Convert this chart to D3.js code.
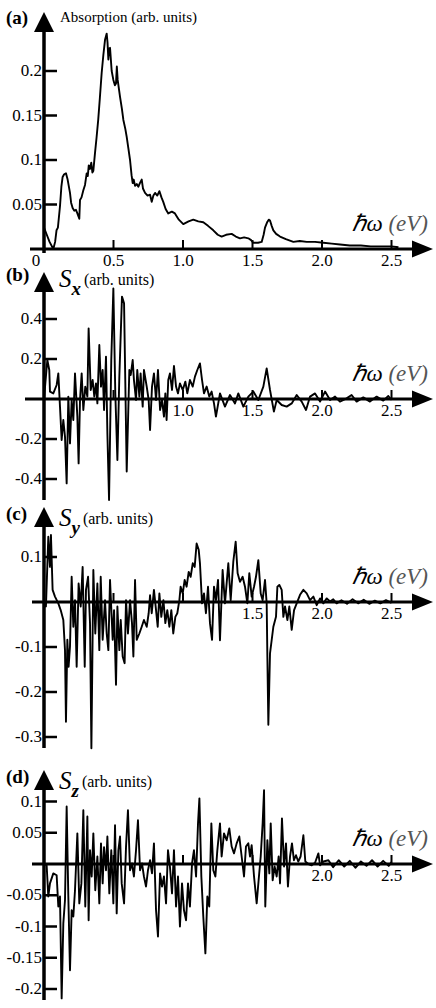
<!DOCTYPE html>
<html>
<head>
<meta charset="utf-8">
<script src="https://cdn.jsdelivr.net/npm/d3@7/dist/d3.min.js"></script>
<style>
  html, body { margin: 0; padding: 0; background: #fff; }
  text, tspan { font-family: 'Liberation Serif'; }
</style>
</head>
<body>
<svg id="chart"></svg>
<script>
const width = 436;
const height = 1008;
const serif = 'Liberation Serif';

/* data: [photon energy (eV), value] */
const absorption = [
  [0,0.024],[0.02,0.016],[0.04,0.008],[0.067,0.0],[0.08,0.008],[0.09,0.021],[0.1,0.024],[0.115,0.048],
  [0.125,0.07],[0.134,0.081],[0.145,0.084],[0.158,0.085],[0.17,0.078],[0.187,0.063],[0.195,0.052],
  [0.206,0.046],[0.218,0.043],[0.23,0.044],[0.24,0.04],[0.254,0.034],[0.259,0.055],[0.27,0.058],
  [0.283,0.066],[0.295,0.072],[0.307,0.085],[0.315,0.082],[0.322,0.094],[0.331,0.09],[0.34,0.097],
  [0.348,0.086],[0.355,0.088],[0.367,0.108],[0.378,0.125],[0.39,0.145],[0.402,0.17],[0.415,0.198],
  [0.427,0.218],[0.439,0.235],[0.451,0.242],[0.457,0.232],[0.463,0.213],[0.468,0.225],[0.475,0.226],
  [0.487,0.2],[0.499,0.19],[0.51,0.184],[0.518,0.186],[0.524,0.205],[0.53,0.19],[0.547,0.171],
  [0.56,0.158],[0.571,0.145],[0.585,0.135],[0.595,0.126],[0.607,0.113],[0.619,0.1],[0.63,0.083],
  [0.638,0.074],[0.645,0.078],[0.655,0.071],[0.667,0.073],[0.679,0.07],[0.69,0.074],[0.703,0.078],
  [0.712,0.068],[0.727,0.063],[0.745,0.06],[0.763,0.061],[0.775,0.053],[0.787,0.06],[0.799,0.063],
  [0.815,0.06],[0.83,0.065],[0.845,0.058],[0.858,0.053],[0.875,0.045],[0.894,0.04],[0.92,0.042],
  [0.942,0.04],[0.97,0.033],[1.002,0.028],[1.04,0.031],[1.074,0.033],[1.11,0.031],[1.146,0.03],
  [1.18,0.026],[1.218,0.021],[1.25,0.016],[1.278,0.014],[1.31,0.016],[1.35,0.017],[1.38,0.014],
  [1.41,0.012],[1.44,0.013],[1.47,0.012],[1.49,0.01],[1.506,0.007],[1.54,0.007],[1.566,0.008],
  [1.58,0.016],[1.59,0.024],[1.605,0.03],[1.618,0.033],[1.626,0.032],[1.638,0.026],[1.65,0.021],
  [1.67,0.017],[1.698,0.014],[1.74,0.011],[1.794,0.008],[1.84,0.009],[1.89,0.008],[1.95,0.008],
  [2.01,0.007],[2.07,0.006],[2.13,0.005],[2.2,0.004],[2.28,0.004],[2.35,0.003],[2.42,0.003],
  [2.5,0.003],[2.55,0.002]
];

const spinX = [
  [0,0],[0.024,0.195],[0.038,0.145],[0.043,0.037],[0.067,0.028],[0.091,0.07],[0.103,0.128],
  [0.115,-0.038],[0.127,-0.205],[0.139,-0.105],[0.151,-0.188],[0.163,-0.422],[0.175,0.012],
  [0.187,-0.222],[0.199,-0.005],[0.211,-0.105],[0.223,0.128],[0.24,-0.088],[0.249,-0.322],
  [0.259,-0.005],[0.271,0.128],[0.283,-0.055],[0.297,0.062],[0.312,0.012],[0.321,0.353],
  [0.336,0.045],[0.35,0.095],[0.362,0.012],[0.374,0.078],[0.384,-0.022],[0.398,0.27],[0.41,0.062],
  [0.422,0.145],[0.432,-0.055],[0.446,0.212],[0.456,-0.172],[0.468,-0.505],[0.484,0.195],
  [0.499,0.553],[0.513,0.028],[0.528,-0.305],[0.542,0.112],[0.561,0.512],[0.576,0.478],
  [0.595,-0.363],[0.614,0.145],[0.624,0.12],[0.638,0.195],[0.647,0.095],[0.662,-0.005],
  [0.671,0.145],[0.686,0.012],[0.695,0.128],[0.71,-0.038],[0.719,0.145],[0.739,0.062],
  [0.753,-0.005],[0.763,-0.155],[0.777,0.062],[0.791,0.128],[0.806,-0.005],[0.82,0.145],
  [0.835,-0.055],[0.849,-0.005],[0.863,-0.088],[0.873,0.028],[0.882,-0.105],[0.894,0.095],
  [0.906,0.128],[0.921,0.045],[0.935,0.165],[0.95,0.062],[0.964,0.028],[0.978,0.078],
  [0.998,0.045],[1.017,0.087],[1.031,0.028],[1.05,0.095],[1.07,0.062],[1.086,0.112],
  [1.103,0.145],[1.122,0.178],[1.137,0.095],[1.151,0.028],[1.17,0.062],[1.189,0.012],
  [1.206,0.037],[1.223,-0.022],[1.237,-0.088],[1.266,0.028],[1.302,-0.038],[1.338,0.02],
  [1.374,-0.022],[1.398,0.028],[1.434,-0.038],[1.47,0.012],[1.506,0.037],[1.542,-0.005],
  [1.578,0.062],[1.602,0.153],[1.626,0.045],[1.654,-0.063],[1.674,-0.005],[1.71,-0.03],
  [1.746,-0.038],[1.782,-0.022],[1.818,0.02],[1.854,-0.013],[1.885,-0.055],[1.914,0.012],
  [1.95,0.028],[1.986,-0.013],[2.022,0.037],[2.058,-0.005],[2.094,0.012],[2.129,-0.013],
  [2.177,0.003],[2.213,0.02],[2.249,-0.013],[2.297,0.008],[2.345,-0.013],[2.393,0.012],
  [2.441,-0.008],[2.477,0.015],[2.501,-0.005]
];

const spinY = [
  [0,0],[0.014,-0.01],[0.031,0.145],[0.043,0.078],[0.05,0.149],[0.062,0.027],[0.079,0.012],
  [0.103,-0.003],[0.12,-0.018],[0.139,-0.04],[0.151,-0.107],[0.158,-0.266],[0.168,-0.084],
  [0.177,-0.144],[0.187,-0.099],[0.199,0.056],[0.211,-0.055],[0.223,0.004],[0.235,-0.144],
  [0.249,0.041],[0.264,-0.01],[0.278,0.078],[0.293,-0.144],[0.302,0.027],[0.317,0.056],
  [0.331,-0.047],[0.341,-0.325],[0.355,0.071],[0.369,-0.07],[0.384,0.041],[0.398,-0.107],
  [0.408,0.056],[0.422,-0.084],[0.439,0.004],[0.451,-0.07],[0.463,-0.107],[0.475,0.049],
  [0.494,-0.084],[0.504,-0.018],[0.518,-0.184],[0.528,-0.01],[0.542,-0.107],[0.552,-0.04],
  [0.566,-0.121],[0.58,-0.136],[0.59,0.004],[0.604,-0.07],[0.619,0.004],[0.633,-0.047],
  [0.643,-0.121],[0.655,0.049],[0.667,-0.084],[0.686,-0.07],[0.703,-0.055],[0.719,-0.04],
  [0.739,-0.055],[0.753,-0.025],[0.763,0.015],[0.775,-0.025],[0.791,0.027],[0.806,-0.018],
  [0.818,-0.055],[0.83,0.019],[0.844,-0.033],[0.859,0.004],[0.873,-0.047],[0.887,-0.018],
  [0.902,-0.055],[0.916,-0.018],[0.93,-0.07],[0.945,-0.033],[0.959,-0.025],[0.974,0.004],
  [0.983,0.034],[0.998,0.019],[1.012,0.049],[1.026,0.034],[1.041,0.067],[1.055,0.056],
  [1.07,0.086],[1.084,0.078],[1.098,0.13],[1.113,0.116],[1.122,0.086],[1.137,-0.003],
  [1.151,0.019],[1.165,-0.025],[1.18,0.034],[1.194,-0.047],[1.209,-0.084],[1.223,0.034],
  [1.237,0.004],[1.252,0.049],[1.266,-0.085],[1.285,0.071],[1.302,-0.003],[1.326,0.086],
  [1.343,0.004],[1.362,0.09],[1.379,0.134],[1.393,0.064],[1.41,0.045],[1.429,0.056],
  [1.446,0.034],[1.463,-0.003],[1.477,0.064],[1.494,0.012],[1.511,0.034],[1.525,0.056],
  [1.542,0.093],[1.559,0.019],[1.573,0.004],[1.59,0.049],[1.602,-0.003],[1.607,-0.122],
  [1.614,-0.273],[1.626,-0.114],[1.65,-0.055],[1.669,-0.033],[1.679,0.034],[1.693,0.038],
  [1.71,0.027],[1.722,-0.033],[1.734,-0.01],[1.751,-0.04],[1.765,-0.01],[1.782,-0.062],
  [1.799,-0.018],[1.818,-0.003],[1.842,0.016],[1.866,0.027],[1.89,0.019],[1.914,0.004],
  [1.938,0.012],[1.962,-0.007],[1.986,0.008],[2.01,-0.003],[2.034,0.008],[2.058,0.001],
  [2.081,0.006],[2.105,-0.003],[2.14,0.004],[2.18,-0.004],[2.22,0.006],[2.26,-0.003],
  [2.3,0.005],[2.34,-0.004],[2.38,0.003],[2.42,-0.003],[2.46,0.004],[2.5,-0.002]
];

const spinZ = [
  [0,0],[0.019,-0.002],[0.031,-0.052],[0.043,-0.031],[0.067,-0.015],[0.091,-0.018],
  [0.103,-0.068],[0.115,-0.052],[0.127,-0.215],[0.139,-0.095],[0.151,-0.058],[0.163,0.092],
  [0.175,-0.052],[0.187,-0.17],[0.199,-0.074],[0.211,-0.084],[0.223,-0.042],[0.24,0.049],
  [0.254,-0.063],[0.269,-0.031],[0.283,0.086],[0.297,-0.068],[0.312,0.076],[0.321,-0.09],
  [0.331,0.022],[0.343,-0.02],[0.355,0.049],[0.369,-0.042],[0.384,0.012],[0.398,-0.063],
  [0.41,0.033],[0.422,-0.031],[0.432,0.027],[0.446,-0.01],[0.456,0.044],[0.47,-0.047],
  [0.484,0.022],[0.499,-0.063],[0.511,0.062],[0.523,-0.079],[0.535,0.022],[0.547,0.044],
  [0.559,-0.031],[0.576,-0.063],[0.59,0.027],[0.604,0.086],[0.619,-0.01],[0.633,0.001],
  [0.647,-0.02],[0.662,0.022],[0.676,0.07],[0.691,-0.01],[0.705,0.001],[0.719,-0.02],
  [0.734,-0.036],[0.748,-0.01],[0.763,0.006],[0.777,-0.015],[0.791,0.033],[0.806,-0.074],
  [0.82,-0.116],[0.835,-0.015],[0.849,-0.036],[0.863,-0.02],[0.878,-0.063],[0.892,0.022],
  [0.906,-0.004],[0.921,-0.047],[0.935,0.022],[0.95,-0.068],[0.964,-0.02],[0.978,-0.1],
  [0.993,-0.031],[1.007,-0.074],[1.022,-0.09],[1.036,-0.031],[1.05,-0.068],[1.065,0.001],
  [1.079,0.022],[1.094,-0.02],[1.108,0.065],[1.118,0.105],[1.132,-0.02],[1.146,-0.084],
  [1.161,-0.143],[1.175,-0.052],[1.189,-0.068],[1.204,0.065],[1.218,-0.01],[1.233,-0.02],
  [1.247,0.022],[1.266,0.065],[1.278,0.012],[1.295,0.049],[1.314,0.038],[1.333,0.057],
  [1.35,0.028],[1.367,0.017],[1.386,0.033],[1.405,0.044],[1.422,0.012],[1.439,-0.02],
  [1.453,0.028],[1.47,0.033],[1.482,0.012],[1.494,0.03],[1.511,-0.02],[1.53,-0.063],
  [1.544,-0.026],[1.559,0.012],[1.573,0.065],[1.583,0.118],[1.592,-0.068],[1.607,0.038],
  [1.621,-0.015],[1.631,0.065],[1.645,-0.026],[1.659,-0.004],[1.674,-0.02],[1.688,0.012],
  [1.698,-0.031],[1.712,0.073],[1.727,-0.004],[1.741,0.033],[1.755,-0.036],[1.77,0.012],
  [1.784,0.033],[1.798,0.006],[1.813,0.014],[1.829,0.004],[1.846,0.012],[1.866,0.046],
  [1.88,0.004],[1.902,0.0],[1.926,-0.002],[1.95,0.002],[1.974,0.017],[1.986,-0.002],
  [2.01,0.004],[2.046,0.006],[2.08,-0.005],[2.12,0.006],[2.16,-0.004],[2.2,0.005],
  [2.24,-0.006],[2.28,0.004],[2.32,-0.003],[2.36,0.006],[2.4,-0.004],[2.44,0.005],
  [2.48,-0.003],[2.5,0.003]
];

/* tick values */
const absTicks = [0.05, 0.1, 0.15, 0.2];
const sxTicks = [-0.4, -0.2, 0.2, 0.4];
const syTicks = [-0.3, -0.2, -0.1, 0.1];
const szTicks = [-0.2, -0.15, -0.1, -0.05, 0.05, 0.1];
const energyTicks = [0.5, 1.0, 1.5, 2.0, 2.5];
const absEnergyLabels = [0, 0.5, 1.0, 1.5, 2.0, 2.5];
const sxEnergyLabels = [1.0, 1.5, 2.0, 2.5];
const syEnergyLabels = [1.5, 2.0, 2.5];
const szEnergyLabels = [2.0, 2.5];

const axisX = 44;

/* shared energy scale */
const xScale = d3.scaleLinear().domain([0, 2.5]).range([axisX, axisX + 347.5]);

/* panel layout: zero line, px per unit, y-axis extent */
const panels = [
  { tag: '(a)', data: absorption, ticks: absTicks, xLabels: absEnergyLabels, zero: 249, k: 890,
    top: 12, bottom: 253, xStart: 30, tagY: 24 },
  { tag: '(b)', sub: 'x', data: spinX, ticks: sxTicks, xLabels: sxEnergyLabels, zero: 399, k: 200,
    top: 272, bottom: 500, xStart: 25, tagY: 281 },
  { tag: '(c)', sub: 'y', data: spinY, ticks: syTicks, xLabels: syEnergyLabels, zero: 602, k: 450,
    top: 507, bottom: 748, xStart: 32, tagY: 520 },
  { tag: '(d)', sub: 'z', data: spinZ, ticks: szTicks, xLabels: szEnergyLabels, zero: 864, k: 625,
    top: 770, bottom: 1000, xStart: 32, tagY: 783 }
];

const svg = d3.select('#chart')
  .attr('width', width)
  .attr('height', height)
  .style('font-family', serif);

panels.forEach(p => {
  const yScale = d3.scaleLinear().domain([0, 1]).range([p.zero, p.zero - p.k]);
  const g = svg.append('g');

  /* data curve */
  const line = d3.line()
    .x(d => xScale(d[0]))
    .y(d => yScale(d[1]));

  g.append('path')
    .datum(p.data)
    .attr('d', line)
    .attr('fill', 'none')
    .attr('stroke', '#000')
    .attr('stroke-width', 1.9)
    .attr('stroke-linejoin', 'round');

  /* x axis with arrow */
  g.append('line')
    .attr('x1', p.xStart).attr('x2', 416)
    .attr('y1', yScale(0)).attr('y2', yScale(0))
    .attr('stroke', '#000').attr('stroke-width', 3);
  g.append('path')
    .attr('d', `M433,${yScale(0)} L412,${yScale(0) - 8.5} L412,${yScale(0) + 8.5} Z`)
    .attr('fill', '#000');

  g.selectAll('.xtick')
    .data(energyTicks)
    .enter().append('line')
      .attr('x1', d => xScale(d)).attr('x2', d => xScale(d))
      .attr('y1', yScale(0)).attr('y2', yScale(0) - 9)
      .attr('stroke', '#000').attr('stroke-width', 2);

  g.selectAll('.xlabel')
    .data(p.xLabels)
    .enter().append('text')
      .attr('x', d => d === 0 ? xScale(d) - 8 : xScale(d))
      .attr('y', yScale(0) + 17)
      .attr('text-anchor', 'middle')
      .attr('font-family', serif)
      .attr('font-size', 17)
      .text(d => d === 0 ? '0' : d.toFixed(1));

  /* y axis with arrow */
  g.append('line')
    .attr('x1', axisX).attr('x2', axisX)
    .attr('y1', p.top + 16).attr('y2', p.bottom)
    .attr('stroke', '#000').attr('stroke-width', 3.5);
  g.append('path')
    .attr('d', `M${axisX},${p.top} L${axisX - 10},${p.top + 20} L${axisX + 10},${p.top + 20} Z`)
    .attr('fill', '#000');

  g.selectAll('.ytick')
    .data(p.ticks)
    .enter().append('line')
      .attr('x1', axisX).attr('x2', axisX + 13)
      .attr('y1', d => yScale(d)).attr('y2', d => yScale(d))
      .attr('stroke', '#000').attr('stroke-width', 2.5);

  g.selectAll('.ylabel')
    .data(p.ticks)
    .enter().append('text')
      .attr('x', 42)
      .attr('y', d => yScale(d) + 5)
      .attr('text-anchor', 'end')
      .attr('font-family', serif)
      .attr('font-size', 17)
      .text(d => String(d));

  /* panel tag */
  g.append('text')
    .attr('x', 6)
    .attr('y', p.tagY)
    .attr('font-family', serif)
    .attr('font-size', 19)
    .attr('font-weight', 'bold')
    .text(p.tag);

  /* axis title */
  if (!p.sub) {
    g.append('text')
      .attr('x', 60)
      .attr('y', p.tagY - 2)
      .attr('font-family', serif)
      .attr('font-size', 15)
      .text('Absorption (arb. units)');
  } else {
    const t = g.append('text')
      .attr('x', 59)
      .attr('y', p.tagY + 6)
      .attr('font-family', serif);
    t.append('tspan')
      .attr('font-size', 25)
      .attr('font-style', 'italic')
      .text('S');
    t.append('tspan')
      .attr('dy', 8)
      .attr('font-size', 19)
      .attr('font-style', 'italic')
      .attr('font-weight', 'bold')
      .text(p.sub);
    t.append('tspan')
      .attr('dy', -10)
      .attr('dx', 3)
      .attr('font-size', 16)
      .text('(arb. units)');
  }

  /* energy label */
  const e = g.append('text')
    .attr('x', 428)
    .attr('y', yScale(0) - 18)
    .attr('text-anchor', 'end')
    .attr('font-family', serif)
    .attr('font-size', 23)
    .attr('font-style', 'italic');
  e.append('tspan').text('\u210Fω ');
  e.append('tspan').attr('fill', '#555').text('(eV)');
});
</script>
</body>
</html>
